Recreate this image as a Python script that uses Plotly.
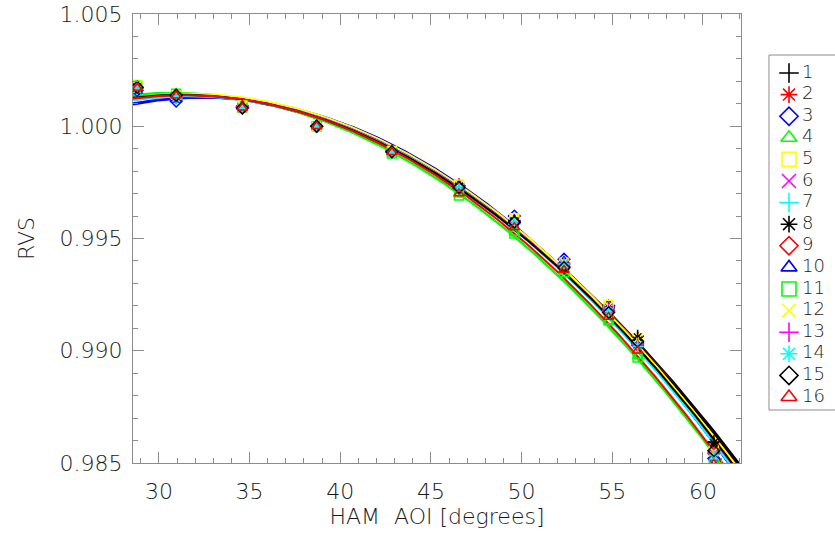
import numpy as np
import plotly.graph_objects as go

# HAM angle of incidence for each measurement (degrees)
aoi = [28.8, 30.95, 34.6, 38.7, 42.85, 46.55, 49.6, 52.34, 54.8, 56.4, 60.6]

# Measured RVS for each of the 16 detectors, normalised at 38.7 deg
rvs_1 = [1.00172, 1.00142, 1.00090, 1.0, 0.99886, 0.99735, 0.99580, 0.99385, 0.99190, 0.99065, 0.98595]
rvs_2 = [1.00168, 1.00140, 1.00088, 1.0, 0.99888, 0.99745, 0.99578, 0.99380, 0.99195, 0.99060, 0.98580]
rvs_3 = [1.00160, 1.00112, 1.00082, 1.0, 0.99890, 0.99735, 0.99600, 0.99408, 0.99200, 0.99035, 0.98520]
rvs_4 = [1.00182, 1.00148, 1.00085, 1.0, 0.99880, 0.99695, 0.99525, 0.99352, 0.99130, 0.98975, 0.98500]
rvs_5 = [1.00185, 1.00138, 1.00092, 1.0, 0.99890, 0.99740, 0.99590, 0.99390, 0.99205, 0.99055, 0.98555]
rvs_6 = [1.00170, 1.00130, 1.00086, 1.0, 0.99884, 0.99725, 0.99572, 0.99392, 0.99180, 0.99030, 0.98540]
rvs_7 = [1.00166, 1.00125, 1.00084, 1.0, 0.99883, 0.99718, 0.99565, 0.99388, 0.99172, 0.99022, 0.98538]
rvs_8 = [1.00175, 1.00140, 1.00080, 1.0, 0.99887, 0.99730, 0.99575, 0.99365, 0.99175, 0.99060, 0.98590]
rvs_9 = [1.00172, 1.00135, 1.00088, 1.0, 0.99886, 0.99722, 0.99570, 0.99375, 0.99178, 0.99025, 0.98545]
rvs_10 = [1.00158, 1.00118, 1.00083, 1.0, 0.99889, 0.99730, 0.99585, 0.99400, 0.99190, 0.99030, 0.98525]
rvs_11 = [1.00180, 1.00145, 1.00084, 1.0, 0.99879, 0.99692, 0.99522, 0.99350, 0.99135, 0.98970, 0.98495]
rvs_12 = [1.00183, 1.00140, 1.00090, 1.0, 0.99891, 0.99742, 0.99588, 0.99395, 0.99200, 0.99052, 0.98550]
rvs_13 = [1.00171, 1.00128, 1.00087, 1.0, 0.99885, 0.99727, 0.99570, 0.99390, 0.99182, 0.99028, 0.98542]
rvs_14 = [1.00165, 1.00126, 1.00085, 1.0, 0.99882, 0.99720, 0.99567, 0.99386, 0.99175, 0.99020, 0.98535]
rvs_15 = [1.00174, 1.00138, 1.00081, 1.0, 0.99886, 0.99728, 0.99573, 0.99370, 0.99170, 0.99042, 0.98555]
rvs_16 = [1.00170, 1.00136, 1.00082, 1.0, 0.99884, 0.99700, 0.99550, 0.99360, 0.99150, 0.99000, 0.98495]

detectors = ["1", "2", "3", "4", "5", "6", "7", "8",
             "9", "10", "11", "12", "13", "14", "15", "16"]
series = [rvs_1, rvs_2, rvs_3, rvs_4, rvs_5, rvs_6, rvs_7, rvs_8,
          rvs_9, rvs_10, rvs_11, rvs_12, rvs_13, rvs_14, rvs_15, rvs_16]

palette = ["#000000", "#ff0000", "#0000ff", "#00ff00", "#ffff00", "#ff00ff", "#00ffff"]
symbols = ["cross-thin-open", "asterisk-open", "diamond-open",
           "triangle-up-open", "square-open", "x-thin-open"]
colors = [palette[i % 7] for i in range(len(series))]
marks = [symbols[i % 6] for i in range(len(series))]

FONT = "DejaVu Sans ExtraLight, DejaVu Sans, sans-serif"
TEXT = "#1a1a1a"
AXIS = "#8c8c8c"

W, H = 835, 537
M_L, M_T, M_B = 133, 14, 74
PLOT_RIGHT = 741          # right edge of the data area in pixels

x_range = [28.57, 62.1]
y_range = [0.985, 1.005]
x_fit = np.linspace(x_range[0], x_range[1], 200)

fig = go.Figure()

# Quadratic fit per detector
for i, vals in enumerate(series):
    coef = np.polyfit(aoi, vals, 2)
    fig.add_trace(go.Scatter(
        x=x_fit, y=np.polyval(coef, x_fit), mode="lines",
        line=dict(color=colors[i], width=2),
        showlegend=False, hoverinfo="skip",
    ))

# Measurements
for i, vals in enumerate(series):
    fig.add_trace(go.Scatter(
        x=aoi, y=vals, mode="markers", name=detectors[i], showlegend=False,
        marker=dict(symbol=marks[i], size=9, color=colors[i],
                    line=dict(color=colors[i], width=1.5)),
    ))

# Key panel to the right of the data area, on its own pixel-scaled axes
key_sym_x, key_txt_x = 789, 802
key_row0, key_step = 73, 21.6
key_y = [key_row0 + key_step * k for k in range(len(detectors))]
fig.add_trace(go.Scatter(
    x=[key_sym_x] * len(detectors), y=key_y, mode="markers",
    marker=dict(symbol=marks, size=14, color=colors,
                line=dict(color=colors, width=1.6)),
    xaxis="x2", yaxis="y2", showlegend=False, hoverinfo="skip", cliponaxis=False,
))
fig.add_trace(go.Scatter(
    x=[key_txt_x] * len(detectors), y=key_y, mode="text",
    text=detectors, textposition="middle right",
    textfont=dict(family=FONT, size=18, color=TEXT, weight=200),
    xaxis="x2", yaxis="y2", showlegend=False, hoverinfo="skip", cliponaxis=False,
))

axis_common = dict(
    showline=True, linecolor=AXIS, linewidth=1, mirror="ticks",
    ticks="inside", tickcolor=AXIS, ticklen=11, tickwidth=1,
    showgrid=False, zeroline=False,
    tickfont=dict(family=FONT, size=22, color=TEXT, weight=200),
)

plot_w = W - M_L
x_dom_end = (PLOT_RIGHT - M_L) / plot_w

fig.update_layout(
    width=W, height=H,
    margin=dict(l=M_L, r=0, t=M_T, b=M_B),
    paper_bgcolor="white", plot_bgcolor="white",
    showlegend=False,
    xaxis=dict(
        domain=[0, x_dom_end], range=x_range, tick0=30, dtick=5,
        minor=dict(ticks="inside", dtick=1, ticklen=5, tickcolor=AXIS),
        ticklabelstandoff=9,
        title=dict(text="HAM  AOI [degrees]",
                   font=dict(family=FONT, size=22, color=TEXT, weight=200), standoff=2),
        **axis_common,
    ),
    yaxis=dict(
        range=y_range, tick0=0.985, dtick=0.005, tickformat=".3f",
        minor=dict(ticks="inside", dtick=0.001, ticklen=5, tickcolor=AXIS),
        ticklabelstandoff=5,
        title=dict(text="RVS", font=dict(family=FONT, size=22, color=TEXT, weight=200), standoff=18),
        **axis_common,
    ),
    xaxis2=dict(domain=[x_dom_end, 1], range=[PLOT_RIGHT, W], visible=False, fixedrange=True),
    yaxis2=dict(domain=[0, 1], range=[H - M_B, M_T], visible=False, fixedrange=True,
                anchor="x2"),
    shapes=[dict(type="rect", xref="paper", yref="paper",
                 x0=(769 - M_L) / plot_w, x1=1.02,
                 y0=(H - M_B - 410) / (H - M_T - M_B), y1=(H - M_B - 55) / (H - M_T - M_B),
                 line=dict(color=AXIS, width=1), fillcolor="rgba(0,0,0,0)")],
)

fig.write_html("out.html")
